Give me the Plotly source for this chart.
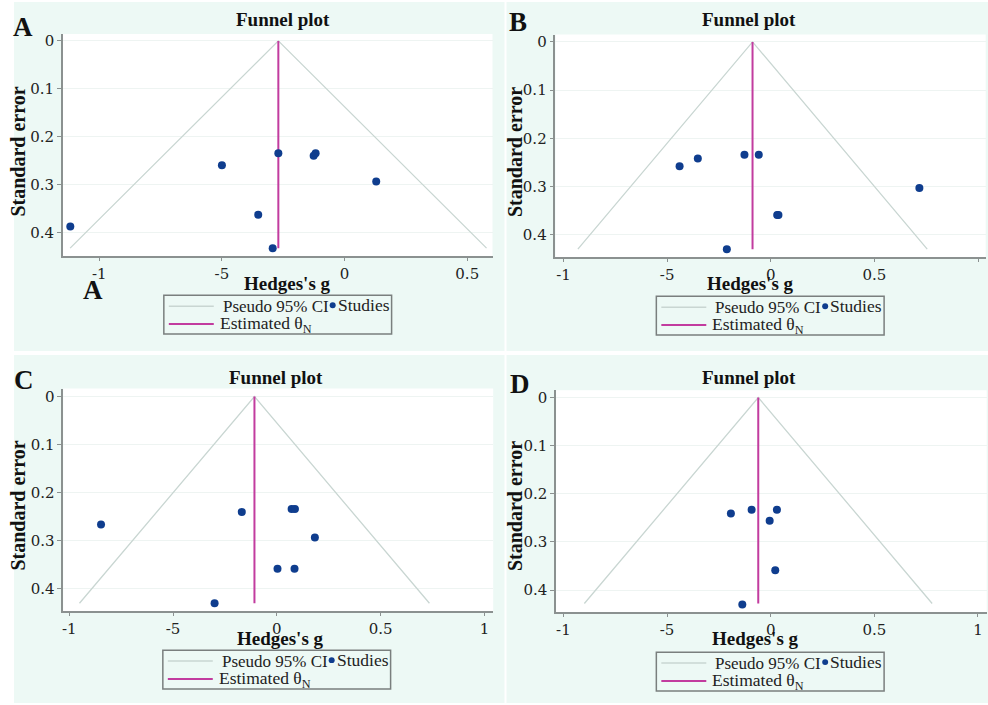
import plotly.graph_objects as go

# ---------------- data ----------------
panel_labels = ["A", "B", "C", "D"]
title_text = "Funnel plot"
x_title = "Hedges's g"
y_title = "Standard error"

a_g = [-1.118, -0.500, -0.270, -0.126, -0.118, 0.129, -0.352, -0.293]
a_se = [0.388, 0.260, 0.235, 0.240, 0.235, 0.294, 0.363, 0.433]
b_g = [-0.440, -0.352, -0.127, -0.058, 0.031, 0.037, 0.717, -0.212]
b_se = [0.258, 0.242, 0.234, 0.234, 0.359, 0.359, 0.303, 0.430]
c_g = [-0.847, -0.169, 0.071, 0.087, 0.183, 0.003, 0.085, -0.300]
c_se = [0.266, 0.240, 0.234, 0.234, 0.293, 0.358, 0.358, 0.430]
d_g = [-0.192, -0.092, 0.030, -0.005, 0.022, -0.137]
d_se = [0.241, 0.233, 0.233, 0.256, 0.359, 0.430]

theta = [-0.270, -0.088, -0.108, -0.060]      # estimated theta_N per panel
se_max = [0.433, 0.430, 0.430, 0.428]         # funnel depth per panel
z95 = 1.96

y_tickvals = [0, 0.1, 0.2, 0.3, 0.4]
y_ticktext = ["0", "0.1", "0.2", "0.3", "0.4"]
x_tickvals = [-1, -0.5, 0, 0.5, 1]
x_ticktext_a = ["-1", "-5", "0", "0.5", "1"]
x_ticktext_b = ["-1", "-5", "0", "0.5", ""]
x_ticktext_c = ["-1", "-5", "0", "0.5", "1"]
x_ticktext_d = ["-1", "-5", "0", "0.5", "1"]

leg_ci = "Pseudo 95% CI"
leg_studies = "Studies"
leg_theta = "Estimated θ<sub>N</sub>"

# ---------------- geometry / style ----------------
W, H = 988, 705
def px(x): return x / W
def py(y): return 1 - y / H

MINT = "#edf9f5"
NAVY = "#0f3d8e"
MAGENTA = "#c23c9f"
CI_COL = "#c9d6d2"
AXIS_COL = "#8b9190"
GRID_COL = "#eef4f2"
SERIF = "Liberation Serif"
TICKF = "DejaVu Serif"

panels = [
    dict(g=a_g, se=a_se, tt=x_ticktext_a,
         bg=(13, 0, 504, 350), plot=(62, 32, 492, 255),
         xr=[-1.148, 0.603], yr=[0.45, -0.0146],
         letter=(22, 25), title=(282, 18), xt=(287, 282), yt=(17, 150),
         leg=(163, 294)),
    dict(g=b_g, se=b_se, tt=x_ticktext_b,
         bg=(506, 0, 988, 350), plot=(555, 32.7, 985.7, 256),
         xr=[-1.039, 1.037], yr=[0.4469, -0.0151],
         letter=(518, 20), title=(749, 18), xt=(750, 282), yt=(514, 150),
         leg=(656, 295)),
    dict(g=c_g, se=c_se, tt=x_ticktext_c,
         bg=(13, 354, 504, 703), plot=(62.3, 387.7, 492.7, 610.7),
         xr=[-1.029, 1.042], yr=[0.446, -0.0166],
         letter=(23, 379), title=(275, 377), xt=(280, 638), yt=(17, 505),
         leg=(162, 650)),
    dict(g=d_g, se=d_se, tt=x_ticktext_d,
         bg=(506, 354, 988, 703), plot=(555.7, 389.3, 986.7, 611.7),
         xr=[-1.035, 1.042], yr=[0.4456, -0.0153],
         letter=(520, 383), title=(749, 377), xt=(755, 638), yt=(514, 505),
         leg=(656, 652)),
]

fig = go.Figure()
shapes = []
annotations = []
layout = dict(width=W, height=H, margin=dict(l=0, r=0, t=0, b=0),
              paper_bgcolor="white", plot_bgcolor="rgba(0,0,0,0)",
              showlegend=False)


def ann(text, x, y, size, xanchor="center", angle=0, color="#111"):
    annotations.append(dict(text=text, x=px(x), y=py(y), xref="paper", yref="paper",
                            xanchor=xanchor, yanchor="middle", showarrow=False,
                            textangle=angle,
                            font=dict(family=SERIF, size=size, color=color)))


for i, p in enumerate(panels):
    n = i + 1
    xa = "x" if n == 1 else f"x{n}"
    ya = "y" if n == 1 else f"y{n}"
    th, sm = theta[i], se_max[i]

    # funnel (pseudo 95% CI)
    fig.add_trace(go.Scatter(x=[th - z95 * sm, th, th + z95 * sm], y=[sm, 0, sm],
                             mode="lines", line=dict(color=CI_COL, width=1.3),
                             xaxis=xa, yaxis=ya, hoverinfo="skip"))
    # estimated theta line
    fig.add_trace(go.Scatter(x=[th, th], y=[0, sm], mode="lines",
                             line=dict(color=MAGENTA, width=2),
                             xaxis=xa, yaxis=ya, hoverinfo="skip"))
    # studies
    fig.add_trace(go.Scatter(x=p["g"], y=p["se"], mode="markers",
                             marker=dict(color=NAVY, size=8),
                             xaxis=xa, yaxis=ya))

    x0, y0, x1, y1 = p["plot"]
    layout["xaxis" if n == 1 else f"xaxis{n}"] = dict(
        domain=[px(x0), px(x1)], range=p["xr"], anchor=ya,
        tickvals=x_tickvals, ticktext=p["tt"], ticks="outside", ticklen=3,
        tickcolor=AXIS_COL, showline=True, linecolor=AXIS_COL, linewidth=1.5,
        showgrid=False, zeroline=False,
        tickfont=dict(family=TICKF, size=15, color="#222"))
    layout["yaxis" if n == 1 else f"yaxis{n}"] = dict(
        domain=[py(y1), py(y0)], range=p["yr"], anchor=xa,
        tickvals=y_tickvals, ticktext=y_ticktext, ticks="outside", ticklen=4,
        tickcolor=AXIS_COL, showline=True, linecolor=AXIS_COL, linewidth=1.5,
        showgrid=True, gridcolor=GRID_COL, gridwidth=1, zeroline=False,
        tickfont=dict(family=TICKF, size=15, color="#222"))

    # backgrounds
    bx0, by0, bx1, by1 = p["bg"]
    shapes.append(dict(type="rect", xref="paper", yref="paper", layer="below",
                       x0=px(bx0), x1=px(bx1), y0=py(by1), y1=py(by0),
                       fillcolor=MINT, line=dict(width=0)))
    shapes.append(dict(type="rect", xref="paper", yref="paper", layer="below",
                       x0=px(x0), x1=px(x1), y0=py(y1), y1=py(y0),
                       fillcolor="white", line=dict(width=0)))

    # texts
    lx, ly = p["letter"]
    ann("<b>%s</b>" % panel_labels[i], lx, ly, 27)
    tx, ty = p["title"]
    ann("<b>%s</b>" % title_text, tx, ty, 19)
    tx, ty = p["xt"]
    ann("<b>%s</b>" % x_title, tx, ty, 19)
    tx, ty = p["yt"]
    ann("<b>%s</b>" % y_title, tx, ty, 20, angle=-90)

    # legend box
    Lx, Ly = p["leg"]
    shapes.append(dict(type="rect", xref="paper", yref="paper",
                       x0=px(Lx), x1=px(Lx + 228), y0=py(Ly + 39), y1=py(Ly),
                       line=dict(color="#7a7f7e", width=1.5), fillcolor="rgba(0,0,0,0)"))
    shapes.append(dict(type="line", xref="paper", yref="paper",
                       x0=px(Lx + 5), x1=px(Lx + 50), y0=py(Ly + 11), y1=py(Ly + 11),
                       line=dict(color=CI_COL, width=1.5)))
    shapes.append(dict(type="line", xref="paper", yref="paper",
                       x0=px(Lx + 5), x1=px(Lx + 50), y0=py(Ly + 29), y1=py(Ly + 29),
                       line=dict(color=MAGENTA, width=2)))
    shapes.append(dict(type="circle", xref="paper", yref="paper",
                       x0=px(Lx + 166), x1=px(Lx + 172), y0=py(Ly + 13), y1=py(Ly + 7),
                       fillcolor=NAVY, line=dict(width=0)))
    ann(leg_ci, Lx + 57, Ly + 11, 17, xanchor="left", color="#222")
    ann(leg_studies, Lx + 172, Ly + 10, 17.5, xanchor="left", color="#222")
    ann(leg_theta, Lx + 54, Ly + 29, 17.5, xanchor="left", color="#222")

# extra "A" under panel A's axis
ann("<b>A</b>", 92, 289, 27)

layout["shapes"] = shapes
layout["annotations"] = annotations
fig.update_layout(**layout)
fig.write_html("out.html")
